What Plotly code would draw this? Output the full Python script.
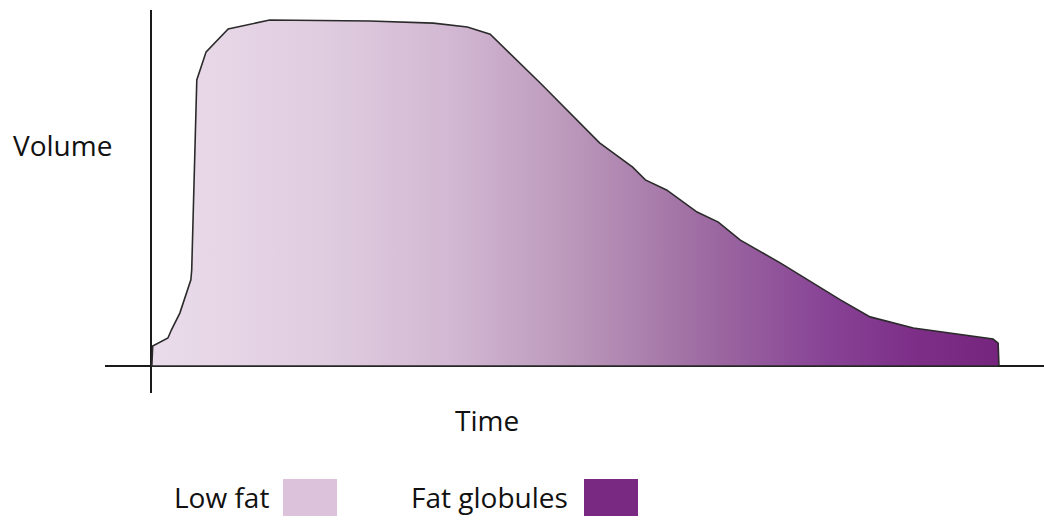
import plotly.graph_objects as go

# Data (time in arbitrary units 0..100, volume in arbitrary units 0..100)
time = [0.1, 0.2, 2.0, 2.4, 3.4, 4.0, 4.7, 4.8, 4.95, 5.2, 5.4, 6.5, 9.1, 14.0, 25.8, 33.3,
        37.3, 40.0, 43.2, 45.9, 52.9, 56.8, 58.3, 60.8, 64.4, 66.9, 69.5, 74.2, 81.3,
        84.8, 89.9, 95.4, 99.3, 99.9, 100.0]
volume = [0, 5.8, 8.1, 10.4, 15.3, 19.9, 24.9, 27.7, 42.2, 71.1, 82.7, 90.8, 97.4, 100, 99.7,
          99.1, 98.0, 95.9, 88.4, 81.8, 64.5, 57.5, 53.8, 50.9, 44.5, 41.6, 36.4, 29.8, 19.1,
          14.2, 11.0, 9.0, 7.8, 6.6, 0]
legend_labels = ["Low fat", "Fat globules"]
legend_colors = ["#ddc2dc", "#7a2982"]
x_title = "Time"
y_title = "Volume"

# closed outline (return along baseline)
xs = time + [time[0]]
ys = volume + [volume[0]]

fig = go.Figure()
fig.add_trace(go.Scatter(
    x=xs, y=ys, mode="lines", fill="toself",
    line=dict(color="#2b2b2b", width=1.6),
    fillgradient=dict(
        type="horizontal",
        colorscale=[[0.0, "#eadcea"], [0.2, "#e0cde0"], [0.35, "#d3b9d3"],
                    [0.5, "#ba97ba"], [0.65, "#9e6ca2"], [0.8, "#874295"],
                    [0.9, "#7d2f88"], [1.0, "#76257e"]]),
    hoverinfo="skip", showlegend=False))

W, H = 1044, 520
ml, mr, mt, mb = 105, 0, 10, 127
pw, ph = W - ml - mr, H - mt - mb

def px(x):
    return (x - ml) / pw

def py(y):
    return (H - mb - y) / ph

fig.update_layout(
    width=W, height=H,
    margin=dict(l=ml, r=mr, t=mt, b=mb),
    plot_bgcolor="white", paper_bgcolor="white",
    showlegend=False,
    font=dict(family="Open Sans, sans-serif", color="#111111", size=28),
    xaxis=dict(range=[-5.425, 105.31], showgrid=False, showticklabels=False, ticks="",
               zeroline=True, zerolinecolor="#1a1a1a", zerolinewidth=1.5, showline=False,
               fixedrange=True),
    yaxis=dict(range=[-7.8, 102.9], showgrid=False, showticklabels=False, ticks="",
               zeroline=True, zerolinecolor="#1a1a1a", zerolinewidth=1.5, showline=False,
               fixedrange=True),
)

annotations = [
    dict(text=y_title, x=px(62), y=py(145), xref="paper", yref="paper",
         showarrow=False, xanchor="center", yanchor="middle"),
    dict(text=x_title, x=px(487), y=py(420), xref="paper", yref="paper",
         showarrow=False, xanchor="center", yanchor="middle"),
    dict(text=legend_labels[0], x=px(271), y=py(497), xref="paper", yref="paper",
         showarrow=False, xanchor="right", yanchor="middle"),
    dict(text=legend_labels[1], x=px(570), y=py(497), xref="paper", yref="paper",
         showarrow=False, xanchor="right", yanchor="middle"),
]
fig.update_layout(annotations=annotations)

boxes = [(283, 337), (584, 638)]
for (x0, x1), c in zip(boxes, legend_colors):
    fig.add_shape(type="rect", xref="paper", yref="paper",
                  x0=px(x0), x1=px(x1), y0=py(516), y1=py(479),
                  fillcolor=c, line=dict(width=0))

fig.write_html("out.html", config={"displayModeBar": False},
               post_script="document.body.style.margin='0';document.body.style.overflow='hidden';")
